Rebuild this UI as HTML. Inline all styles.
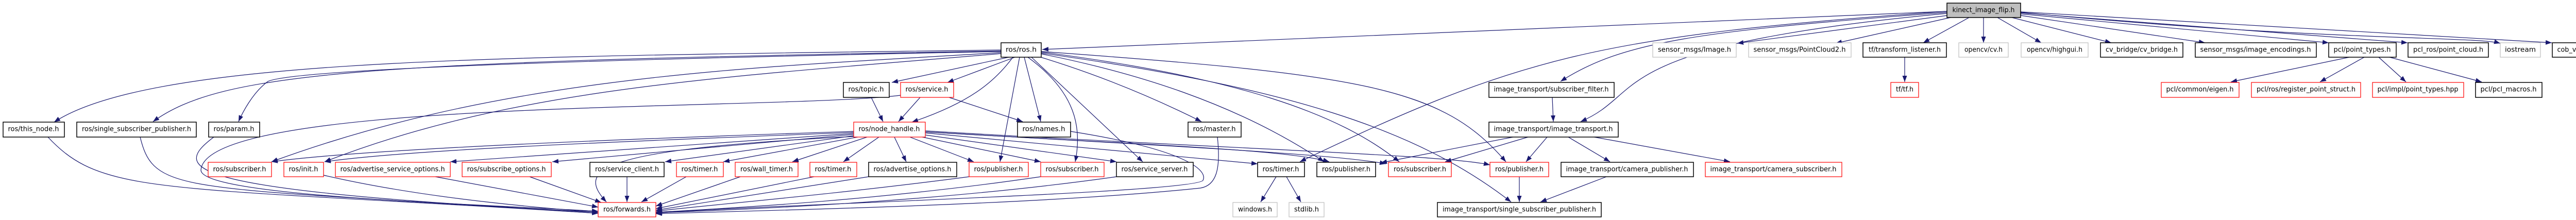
<!DOCTYPE html>
<html><head><meta charset="utf-8"><style>
html,body{margin:0;padding:0;background:#fff;width:5184px;height:427px;overflow:hidden}
svg{display:block}
text{font-family:"DejaVu Sans","Liberation Sans",sans-serif;font-size:13px;text-anchor:middle;dominant-baseline:central;fill:#000}
.e{fill:none;stroke:#191970;stroke-width:1.2}
.b{fill:#fff;stroke:#000;stroke-width:1.5}
.r{fill:#fff;stroke:#f00;stroke-width:1.2}
.g{fill:#fff;stroke:#bfbfbf;stroke-width:1.2}
</style></head><body>
<svg width="5184" height="427" viewBox="0 0 5184 427" xmlns="http://www.w3.org/2000/svg">
<defs><marker id="a" markerUnits="userSpaceOnUse" markerWidth="12" markerHeight="9" refX="12" refY="4.5" orient="auto"><path d="M0,0 L12,4.5 L0,9 z" fill="#191970"/></marker></defs>
<g class="e" marker-end="url(#a)">
<path d="M3779,22 L2023,96"/>
<path d="M3779,24 C3300,60 3150,80 3029,158"/>
<path d="M3779,26 C3100,90 3200,180 3068,236"/>
<path d="M3779,22 C3100,70 2950,110 2523,314"/>
<path d="M3780,30 L3372,84"/>
<path d="M3786,34 L3563,84"/>
<path d="M3822,34 L3733,83"/>
<path d="M3850,34 L3850,83"/>
<path d="M3877,34 L3962,83"/>
<path d="M3905,34 L4098,83"/>
<path d="M3922,30 L4280,83"/>
<path d="M3922,27 L4520,83"/>
<path d="M3922,25 L4673,83"/>
<path d="M3922,24 C4500,80 4800,70 4853,84"/>
<path d="M3922,23 L4953,83"/>
<path d="M1943,97 C1000,110 300,110 105,237"/>
<path d="M1943,99 C700,120 430,140 297,236"/>
<path d="M1943,100 C900,120 560,140 520,158 C490,180 470,220 463,236"/>
<path d="M1943,102 C1500,130 1000,140 527,314"/>
<path d="M1943,104 C1400,150 1000,170 630,314"/>
<path d="M1958,111 L1731,160"/>
<path d="M1970,111 L1839,160"/>
<path d="M1966,111 C1930,160 1880,200 1770,237"/>
<path d="M1979,111 L1941,314"/>
<path d="M1988,111 L2020,236"/>
<path d="M1995,111 C2090,180 2100,250 2087,314"/>
<path d="M2002,111 L2218,314"/>
<path d="M2010,108 C2150,150 2260,200 2332,236"/>
<path d="M2018,104 C2200,140 2400,200 2570,314"/>
<path d="M2021,100 C2650,145 2800,170 2923,314"/>
<path d="M2021,101 C2400,150 2600,220 2716,314"/>
<path d="M2021,103 C2500,170 2750,250 2933,392"/>
<path d="M1748,185 C1500,215 400,190 390,330 C390,380 900,395 1161,410"/>
<path d="M1691,189 L1714,236"/>
<path d="M1786,189 L1744,236"/>
<path d="M1842,189 L1985,236"/>
<path d="M1657,255 C1200,270 700,290 527,314"/>
<path d="M1657,257 C1200,275 800,290 630,314"/>
<path d="M1657,259 L874,314"/>
<path d="M1657,261 L1072,314"/>
<path d="M1660,263 L1291,314"/>
<path d="M1665,266 L1404,314"/>
<path d="M1683,266 L1538,314"/>
<path d="M1706,266 L1637,314"/>
<path d="M1736,266 L1759,314"/>
<path d="M1766,266 L1890,314"/>
<path d="M1790,266 L2020,314"/>
<path d="M1796,262 L2167,314"/>
<path d="M1796,258 L2441,318"/>
<path d="M1796,256 C2200,280 2500,290 2580,314"/>
<path d="M1796,256 C2300,285 2600,300 2690,318"/>
<path d="M1796,254 C2400,290 2800,300 2892,320"/>
<path d="M1657,265 C1150,290 1120,330 1177,392"/>
<path d="M93,266 C200,380 300,360 1161,414"/>
<path d="M272,266 C300,380 350,360 1161,414"/>
<path d="M415,266 C330,330 350,370 1161,412"/>
<path d="M628,340 C800,380 1000,400 1161,412"/>
<path d="M845,343 L1161,402"/>
<path d="M1028,343 L1167,393"/>
<path d="M1217,343 L1217,392"/>
<path d="M1332,343 L1245,392"/>
<path d="M1437,343 L1273,400"/>
<path d="M1580,343 L1273,405"/>
<path d="M1686,343 L1273,408"/>
<path d="M1881,343 C1600,380 1350,400 1273,410"/>
<path d="M2020,343 C1700,390 1400,405 1273,412"/>
<path d="M2167,343 C1800,395 1400,408 1273,413"/>
<path d="M2078,255 C2300,290 2345,330 2335,350 C2320,375 1400,400 1273,414"/>
<path d="M2363,266 C2370,330 2360,360 2330,365 C2000,400 1400,410 1273,415"/>
<path d="M2477,343 L2447,392"/>
<path d="M2497,343 L2525,392"/>
<path d="M2937,266 L2680,316"/>
<path d="M2966,266 L2805,314"/>
<path d="M3003,266 L2962,314"/>
<path d="M3044,266 L3125,314"/>
<path d="M3094,266 L3358,314"/>
<path d="M3013,189 L3015,236"/>
<path d="M2949,343 L2949,392"/>
<path d="M3118,343 L2990,392"/>
<path d="M3697,111 L3697,159"/>
<path d="M4560,111 L4330,159"/>
<path d="M4589,111 L4503,159"/>
<path d="M4617,111 L4670,159"/>
<path d="M4638,111 L4817,159"/>
</g>
<rect x="3779" y="6" width="143" height="28" fill="#bfbfbf" stroke="#000" stroke-width="1.5"/><text x="3850" y="20" textLength="121" lengthAdjust="spacingAndGlyphs">kinect_image_flip.h</text>
<rect class="b" x="1943" y="83" width="78" height="28"/><text x="1982" y="97" textLength="60" lengthAdjust="spacingAndGlyphs">ros/ros.h</text>
<rect class="g" x="3208" y="83" width="162" height="28"/><text x="3289" y="97" textLength="142" lengthAdjust="spacingAndGlyphs">sensor_msgs/Image.h</text>
<rect class="g" x="3394" y="83" width="199" height="28"/><text x="3493" y="97" textLength="179" lengthAdjust="spacingAndGlyphs">sensor_msgs/PointCloud2.h</text>
<rect class="b" x="3616" y="83" width="162" height="28"/><text x="3697" y="97" textLength="140" lengthAdjust="spacingAndGlyphs">tf/transform_listener.h</text>
<rect class="g" x="3802" y="83" width="96" height="28"/><text x="3850" y="97" textLength="74" lengthAdjust="spacingAndGlyphs">opencv/cv.h</text>
<rect class="g" x="3923" y="83" width="130" height="28"/><text x="3988" y="97" textLength="108" lengthAdjust="spacingAndGlyphs">opencv/highgui.h</text>
<rect class="b" x="4077" y="83" width="160" height="28"/><text x="4157" y="97" textLength="140" lengthAdjust="spacingAndGlyphs">cv_bridge/cv_bridge.h</text>
<rect class="b" x="4261" y="83" width="235" height="28"/><text x="4378" y="97" textLength="215" lengthAdjust="spacingAndGlyphs">sensor_msgs/image_encodings.h</text>
<rect class="b" x="4520" y="83" width="131" height="28"/><text x="4585" y="97" textLength="111" lengthAdjust="spacingAndGlyphs">pcl/point_types.h</text>
<rect class="b" x="4674" y="83" width="156" height="28"/><text x="4752" y="97" textLength="136" lengthAdjust="spacingAndGlyphs">pcl_ros/point_cloud.h</text>
<rect class="g" x="4853" y="83" width="78" height="28"/><text x="4892" y="97" textLength="60" lengthAdjust="spacingAndGlyphs">iostream</text>
<rect class="b" x="4954" y="83" width="225" height="28"/><text x="5066" y="97" textLength="205" lengthAdjust="spacingAndGlyphs">cob_vision_utils/GlobalDefines.h</text>
<rect class="b" x="1637" y="160" width="89" height="29"/><text x="1681" y="174" textLength="69" lengthAdjust="spacingAndGlyphs">ros/topic.h</text>
<rect class="r" x="1748" y="160" width="103" height="29"/><text x="1799" y="174" textLength="83" lengthAdjust="spacingAndGlyphs">ros/service.h</text>
<rect class="b" x="2890" y="160" width="243" height="29"/><text x="3011" y="174" textLength="223" lengthAdjust="spacingAndGlyphs">image_transport/subscriber_filter.h</text>
<rect class="r" x="3670" y="160" width="54" height="29"/><text x="3697" y="174" textLength="34" lengthAdjust="spacingAndGlyphs">tf/tf.h</text>
<rect class="r" x="4195" y="160" width="151" height="29"/><text x="4270" y="174" textLength="131" lengthAdjust="spacingAndGlyphs">pcl/common/eigen.h</text>
<rect class="r" x="4370" y="160" width="212" height="29"/><text x="4476" y="174" textLength="192" lengthAdjust="spacingAndGlyphs">pcl/ros/register_point_struct.h</text>
<rect class="r" x="4605" y="160" width="177" height="29"/><text x="4693" y="174" textLength="157" lengthAdjust="spacingAndGlyphs">pcl/impl/point_types.hpp</text>
<rect class="b" x="4805" y="160" width="129" height="29"/><text x="4869" y="174" textLength="109" lengthAdjust="spacingAndGlyphs">pcl/pcl_macros.h</text>
<rect class="b" x="6" y="237" width="119" height="29"/><text x="65" y="251" textLength="99" lengthAdjust="spacingAndGlyphs">ros/this_node.h</text>
<rect class="b" x="149" y="237" width="232" height="29"/><text x="265" y="251" textLength="212" lengthAdjust="spacingAndGlyphs">ros/single_subscriber_publisher.h</text>
<rect class="b" x="405" y="237" width="99" height="29"/><text x="454" y="251" textLength="79" lengthAdjust="spacingAndGlyphs">ros/param.h</text>
<rect class="r" x="1657" y="237" width="139" height="29"/><text x="1726" y="251" textLength="119" lengthAdjust="spacingAndGlyphs">ros/node_handle.h</text>
<rect class="b" x="1975" y="237" width="103" height="29"/><text x="2026" y="251" textLength="83" lengthAdjust="spacingAndGlyphs">ros/names.h</text>
<rect class="b" x="2306" y="237" width="103" height="29"/><text x="2357" y="251" textLength="83" lengthAdjust="spacingAndGlyphs">ros/master.h</text>
<rect class="b" x="2890" y="237" width="251" height="29"/><text x="3015" y="251" textLength="231" lengthAdjust="spacingAndGlyphs">image_transport/image_transport.h</text>
<rect class="r" x="404" y="315" width="123" height="28"/><text x="465" y="329" textLength="103" lengthAdjust="spacingAndGlyphs">ros/subscriber.h</text>
<rect class="r" x="551" y="315" width="77" height="28"/><text x="589" y="329" textLength="57" lengthAdjust="spacingAndGlyphs">ros/init.h</text>
<rect class="r" x="651" y="315" width="223" height="28"/><text x="762" y="329" textLength="203" lengthAdjust="spacingAndGlyphs">ros/advertise_service_options.h</text>
<rect class="r" x="897" y="315" width="173" height="28"/><text x="983" y="329" textLength="153" lengthAdjust="spacingAndGlyphs">ros/subscribe_options.h</text>
<rect class="b" x="1145" y="315" width="144" height="28"/><text x="1217" y="329" textLength="124" lengthAdjust="spacingAndGlyphs">ros/service_client.h</text>
<rect class="r" x="1313" y="315" width="91" height="28"/><text x="1358" y="329" textLength="71" lengthAdjust="spacingAndGlyphs">ros/timer.h</text>
<rect class="r" x="1427" y="315" width="122" height="28"/><text x="1488" y="329" textLength="102" lengthAdjust="spacingAndGlyphs">ros/wall_timer.h</text>
<rect class="r" x="1572" y="315" width="91" height="28"/><text x="1617" y="329" textLength="71" lengthAdjust="spacingAndGlyphs">ros/timer.h</text>
<rect class="b" x="1686" y="315" width="171" height="28"/><text x="1771" y="329" textLength="151" lengthAdjust="spacingAndGlyphs">ros/advertise_options.h</text>
<rect class="r" x="1881" y="315" width="115" height="28"/><text x="1938" y="329" textLength="95" lengthAdjust="spacingAndGlyphs">ros/publisher.h</text>
<rect class="r" x="2020" y="315" width="123" height="28"/><text x="2081" y="329" textLength="103" lengthAdjust="spacingAndGlyphs">ros/subscriber.h</text>
<rect class="b" x="2167" y="315" width="149" height="28"/><text x="2241" y="329" textLength="129" lengthAdjust="spacingAndGlyphs">ros/service_server.h</text>
<rect class="b" x="2441" y="315" width="91" height="28"/><text x="2486" y="329" textLength="71" lengthAdjust="spacingAndGlyphs">ros/timer.h</text>
<rect class="b" x="2556" y="315" width="114" height="28"/><text x="2613" y="329" textLength="94" lengthAdjust="spacingAndGlyphs">ros/publisher.h</text>
<rect class="r" x="2695" y="315" width="122" height="28"/><text x="2756" y="329" textLength="102" lengthAdjust="spacingAndGlyphs">ros/subscriber.h</text>
<rect class="r" x="2892" y="315" width="114" height="28"/><text x="2949" y="329" textLength="94" lengthAdjust="spacingAndGlyphs">ros/publisher.h</text>
<rect class="b" x="3030" y="315" width="257" height="28"/><text x="3158" y="329" textLength="237" lengthAdjust="spacingAndGlyphs">image_transport/camera_publisher.h</text>
<rect class="r" x="3310" y="315" width="265" height="28"/><text x="3442" y="329" textLength="245" lengthAdjust="spacingAndGlyphs">image_transport/camera_subscriber.h</text>
<rect class="r" x="1161" y="393" width="112" height="28"/><text x="1217" y="407" textLength="92" lengthAdjust="spacingAndGlyphs">ros/forwards.h</text>
<rect class="g" x="2393" y="393" width="86" height="28"/><text x="2436" y="407" textLength="66" lengthAdjust="spacingAndGlyphs">windows.h</text>
<rect class="g" x="2502" y="393" width="68" height="28"/><text x="2536" y="407" textLength="48" lengthAdjust="spacingAndGlyphs">stdlib.h</text>
<rect class="b" x="2790" y="393" width="318" height="28"/><text x="2949" y="407" textLength="298" lengthAdjust="spacingAndGlyphs">image_transport/single_subscriber_publisher.h</text>
</svg>
</body></html>
